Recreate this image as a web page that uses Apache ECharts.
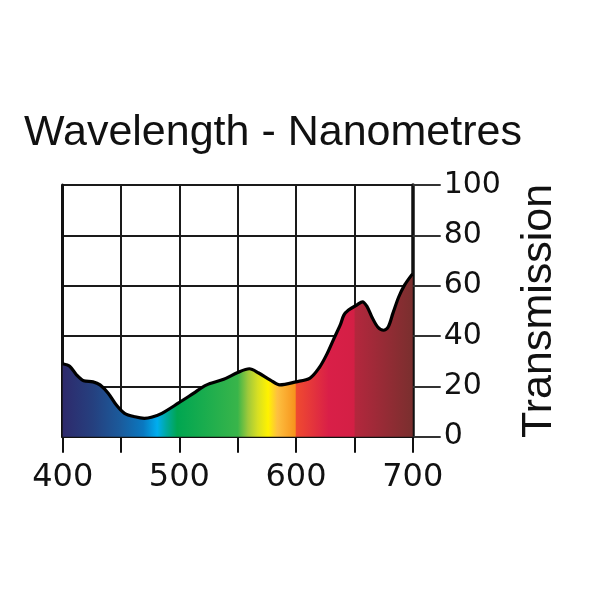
<!DOCTYPE html>
<html>
<head>
<meta charset="utf-8">
<title>Transmission</title>
<script src="https://cdn.jsdelivr.net/npm/echarts@6/dist/echarts.min.js"></script>
<style>
  html, body { margin: 0; padding: 0; background: #fff; }
  #chart { width: 600px; height: 600px; }
</style>
</head>
<body>
<div id="chart"></div>
<script>
// 波长 (nm)
var wavelengths = [400, 406, 412, 418, 426, 432, 439, 446, 453, 462, 470, 476, 485, 499,
  512, 523, 538, 550, 560, 568, 578, 586, 600, 612, 620, 626, 632, 638, 641, 645,
  652, 657, 661, 665, 670, 675, 679, 683, 688, 693, 699, 700];
// 透过率 (%)
var transmission = [29, 28, 24.5, 22.2, 21.8, 20.6, 17.3, 12.6, 9.3, 7.9, 7.3, 7.7, 9.3, 13.3,
  17.2, 20.5, 22.8, 25.5, 27, 25.3, 22.5, 20.6, 21.8, 23.3, 27.5, 32.4, 38.5, 44.5, 48.3, 50.3,
  52.3, 53.6, 51.6, 47.6, 43.6, 42.3, 43.6, 49, 55.5, 60.2, 64.2, 64.5];
// 刻度文字
var xTickLabels = [400, 500, 600, 700];
var yTicks = [0, 20, 40, 60, 80, 100];

(function () {
  var points = wavelengths.map(function (w, i) { return [w, transmission[i]] })

  // 光谱渐变
  var spectrum = new echarts.graphic.LinearGradient(0, 0, 1, 0, [
    { offset: 0, color: '#2e2a6c' },
    { offset: 0.087, color: '#25407f' },
    { offset: 0.163, color: '#1b5a9b' },
    { offset: 0.23, color: '#0a78c0' },
    { offset: 0.27, color: '#00aeef' },
    { offset: 0.297, color: '#00a99d' },
    { offset: 0.327, color: '#00a651' },
    { offset: 0.5, color: '#39b54a' },
    { offset: 0.53, color: '#a0c93a' },
    { offset: 0.557, color: '#d7df23' },
    { offset: 0.587, color: '#fff200' },
    { offset: 0.613, color: '#fdc040' },
    { offset: 0.664, color: '#f7941d' },
    { offset: 0.668, color: '#ef4a30' },
    { offset: 0.76, color: '#d91f48' },
    { offset: 0.832, color: '#d41f45' },
    { offset: 0.836, color: '#b3273d' },
    { offset: 1, color: '#7a2f2e' }
  ])

  var option = {
    animation: false,
    title: {
      text: 'Wavelength - Nanometres',
      left: 24,
      top: 112,
      padding: 0,
      textStyle: {
        fontFamily: 'Liberation Sans',
        fontSize: 43,
        fontWeight: 'normal',
        color: '#111'
      }
    },
    grid: {
      left: 62.7,
      right: 187.3,
      top: 185,
      bottom: 163.3
    },
    xAxis: {
      type: 'value',
      min: 400,
      max: 700,
      interval: 50,
      axisLine: { show: true, onZero: false, lineStyle: { color: '#111', width: 3 } },
      axisTick: { show: true, length: 16, lineStyle: { color: '#111', width: 2 } },
      axisLabel: {
        margin: 25,
        fontFamily: 'DejaVu Sans',
        fontSize: 32,
        color: '#111',
        formatter: function (v) {
          return xTickLabels.indexOf(v) >= 0 ? String(v) : ''
        }
      },
      splitLine: { show: true, lineStyle: { color: '#1a1a1a', width: 2 } }
    },
    yAxis: [
      {
        type: 'value',
        position: 'right',
        min: yTicks[0],
        max: yTicks[yTicks.length - 1],
        interval: 20,
        name: 'Transmission',
        nameLocation: 'middle',
        nameRotate: 90,
        nameGap: 105,
        nameTextStyle: {
          fontFamily: 'Liberation Sans',
          fontSize: 43,
          color: '#111'
        },
        axisLine: { show: true, lineStyle: { color: '#111', width: 3.5 } },
        axisTick: { show: true, length: 28, lineStyle: { color: '#333', width: 2 } },
        axisLabel: {
          margin: 31,
          fontFamily: 'DejaVu Sans',
          fontSize: 30,
          color: '#111',
          align: 'left'
        },
        splitLine: { show: true, lineStyle: { color: '#1a1a1a', width: 2 } }
      },
      {
        type: 'value',
        position: 'left',
        min: 0,
        max: 100,
        interval: 20,
        axisLine: { show: true, lineStyle: { color: '#111', width: 3 } },
        axisTick: { show: false },
        axisLabel: { show: false },
        splitLine: { show: false }
      }
    ],
    series: [
      {
        type: 'line',
        yAxisIndex: 0,
        data: points,
        smooth: 0.3,
        showSymbol: false,
        symbol: 'none',
        lineStyle: { color: '#000', width: 3.2 },
        areaStyle: { color: spectrum, opacity: 1 },
        z: 1
      }
    ]
  }

  var myChart = echarts.init(document.getElementById('chart'))
  myChart.setOption(option)
})();
</script>
</body>
</html>
